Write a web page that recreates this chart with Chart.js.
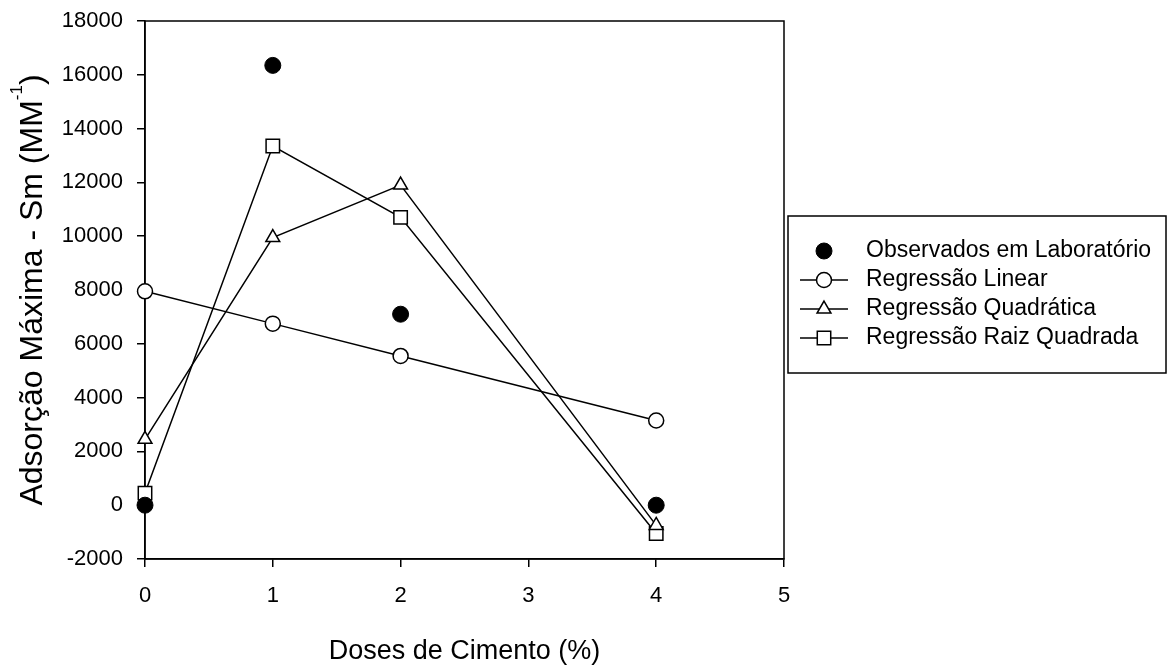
<!DOCTYPE html>
<html>
<head>
<meta charset="utf-8">
<title>Adsorção Máxima</title>
<script src="https://cdn.jsdelivr.net/npm/chart.js@4.4.1/dist/chart.umd.min.js"></script>
<style>
  html, body { margin: 0; padding: 0; background: #fff; }
  #wrap { position: relative; width: 1169px; height: 666px; }
</style>
</head>
<body>
<div id="wrap"><canvas id="chart" width="1169" height="666"></canvas></div>
<script>
// doses de cimento (%)
const doses = [0, 1, 2, 4];
const observados = [0, 16350, 7100, 0];
const regLinear = [7950, 6750, 5550, 3150];
const regQuadratica = [2450, 9950, 11900, -750];
const regRaiz = [450, 13350, 10700, -1050];

const xTicks = [0, 1, 2, 3, 4, 5];
const yMin = -2000, yMax = 18000, yStep = 2000;

const FONT = '"Liberation Sans", Arial, sans-serif';

function pts(values) {
    return doses.map((d, i) => ({ x: d, y: values[i] }));
}

const datasets = [
    {
        label: 'Observados em Laboratório',
        data: pts(observados),
        showLine: false,
        pointStyle: 'circle',
        pointRadius: 8,
        backgroundColor: '#000',
        borderColor: '#000',
        borderWidth: 1,
        clip: false
    },
    {
        label: 'Regressão Linear',
        data: pts(regLinear),
        showLine: true,
        pointStyle: 'circle',
        pointRadius: 7.5,
        backgroundColor: '#fff',
        borderColor: '#000',
        borderWidth: 1.5,
        clip: false
    },
    {
        label: 'Regressão Quadrática',
        data: pts(regQuadratica),
        showLine: true,
        pointStyle: 'triangle',
        pointRadius: 8,
        backgroundColor: '#fff',
        borderColor: '#000',
        borderWidth: 1.5,
        clip: false
    },
    {
        label: 'Regressão Raiz Quadrada',
        data: pts(regRaiz),
        showLine: true,
        pointStyle: 'rect',
        pointRadius: 9.5,
        backgroundColor: '#fff',
        borderColor: '#000',
        borderWidth: 1.5,
        clip: false
    }
];

// frame around the plot, axis titles and the boxed legend
const decorations = {
    id: 'decorations',
    beforeDatasetsDraw(chart) {
        const { ctx, chartArea: a } = chart;
        ctx.save();
        ctx.strokeStyle = '#000';
        ctx.lineWidth = 1.5;
        ctx.strokeRect(a.left, a.top, a.right - a.left, a.bottom - a.top);
        ctx.restore();
    },
    afterDraw(chart) {
        const { ctx, chartArea: a } = chart;
        ctx.save();
        ctx.fillStyle = '#000';

        // x title, centred under the plot
        ctx.font = '27px ' + FONT;
        ctx.textAlign = 'center';
        ctx.textBaseline = 'alphabetic';
        ctx.fillText('Doses de Cimento (%)', (a.left + a.right) / 2, 659);

        // y title with superscript
        ctx.translate(42, (a.top + a.bottom) / 2);
        ctx.rotate(-Math.PI / 2);
        const main = 'Adsorção Máxima - Sm (MM';
        const sup = '-1';
        const tail = ')';
        ctx.font = '32px ' + FONT;
        const wMain = ctx.measureText(main).width;
        const wTail = ctx.measureText(tail).width;
        ctx.font = '17px ' + FONT;
        const wSup = ctx.measureText(sup).width;
        const x0 = -(wMain + wSup + wTail) / 2;
        ctx.textAlign = 'left';
        ctx.font = '32px ' + FONT;
        ctx.fillText(main, x0, 0);
        ctx.font = '17px ' + FONT;
        ctx.fillText(sup, x0 + wMain, -20);
        ctx.font = '32px ' + FONT;
        ctx.fillText(tail, x0 + wMain + wSup, 0);
        ctx.restore();

        // legend
        const box = { left: 788, top: 216, right: 1166, bottom: 373 };
        ctx.save();
        ctx.strokeStyle = '#000';
        ctx.lineWidth = 1.5;
        ctx.strokeRect(box.left, box.top, box.right - box.left, box.bottom - box.top);
        const rowY = [251, 280, 309, 338];
        const mx = 824;
        chart.data.datasets.forEach((ds, i) => {
            const y = rowY[i];
            ctx.strokeStyle = '#000';
            if (ds.showLine) {
                ctx.beginPath();
                ctx.lineWidth = 1.5;
                ctx.moveTo(800, y);
                ctx.lineTo(848, y);
                ctx.stroke();
            }
            ctx.fillStyle = ds.backgroundColor;
            ctx.strokeStyle = ds.borderColor;
            ctx.lineWidth = ds.borderWidth;
            Chart.helpers.drawPoint(ctx, {
                pointStyle: ds.pointStyle,
                radius: ds.pointRadius,
                borderWidth: ds.borderWidth,
                rotation: 0
            }, mx, y);
            ctx.fillStyle = '#000';
            ctx.font = '23px ' + FONT;
            ctx.textAlign = 'left';
            ctx.textBaseline = 'middle';
            ctx.fillText(ds.label, 866, y);
        });
        ctx.restore();
    }
};

new Chart(document.getElementById('chart'), {
    type: 'scatter',
    data: { datasets },
    options: {
        responsive: false,
        animation: false,
        events: [],
        layout: { padding: { left: 0, top: 21, right: 385, bottom: 0 } },
        elements: { line: { borderWidth: 1.5, tension: 0 } },
        plugins: {
            legend: { display: false },
            tooltip: { enabled: false }
        },
        scales: {
            x: {
                type: 'linear',
                min: 0,
                max: 5,
                afterBuildTicks: s => { s.ticks = xTicks.map(v => ({ value: v })); },
                afterFit: s => { s.height = 107; s.paddingLeft = 0; s.paddingRight = 0; },
                grid: { drawOnChartArea: false, drawTicks: true, tickLength: 8, color: '#000', lineWidth: 1.5 },
                border: { display: true, color: '#000', width: 1.5 },
                ticks: { color: '#000', font: { family: FONT, size: 22 }, padding: 16, maxRotation: 0 }
            },
            y: {
                type: 'linear',
                min: yMin,
                max: yMax,
                ticks: {
                    stepSize: yStep,
                    color: '#000',
                    font: { family: FONT, size: 22 },
                    padding: 14,
                    callback: v => String(v)
                },
                afterFit: s => { s.width = 145; s.paddingTop = 0; s.paddingBottom = 0; },
                grid: { drawOnChartArea: false, drawTicks: true, tickLength: 8, color: '#000', lineWidth: 1.5 },
                border: { display: true, color: '#000', width: 1.5 }
            }
        }
    },
    plugins: [decorations]
});
</script>
</body>
</html>
